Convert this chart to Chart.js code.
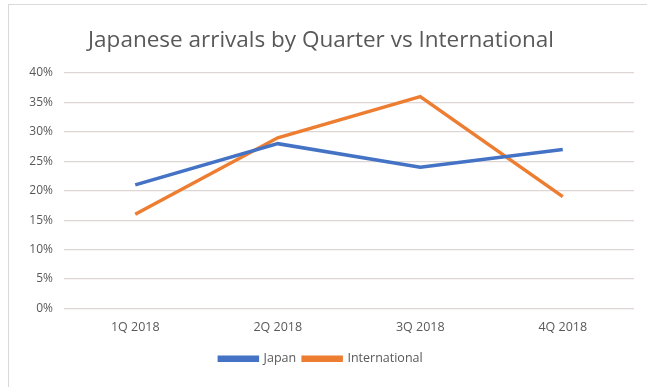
<!DOCTYPE html>
<html>
<head>
<meta charset="utf-8">
<script src="https://cdn.jsdelivr.net/npm/chart.js@4"></script>
<style>
  html, body { margin: 0; padding: 0; background: #fff; }
  #wrap { position: relative; width: 647px; height: 387px; }
  #frame { position: absolute; left: 8px; top: 4px; width: 660px; height: 400px; border: 1px solid #d9d9d9; box-sizing: border-box; pointer-events: none; }
</style>
</head>
<body>
<div id="wrap">
  <canvas id="c" width="647" height="387"></canvas>
  <div id="frame"></div>
</div>
<script>
const quarters = ['1Q 2018', '2Q 2018', '3Q 2018', '4Q 2018'];
const japan = [21, 28, 24, 27];
const international = [16, 29, 36, 19];
const yTicks = [0, 5, 10, 15, 20, 25, 30, 35, 40];

const txt = '#595959';
const font = "'Open Sans', 'Liberation Sans', sans-serif";

new Chart(document.getElementById('c'), {
    type: 'line',
    data: {
        labels: quarters,
        datasets: [{
            label: 'Japan',
            data: japan,
            borderColor: '#4472C4',
            backgroundColor: '#4472C4',
            borderWidth: 3.5,
            pointRadius: 0,
            tension: 0,
        }, {
            label: 'International',
            data: international,
            borderColor: '#ED7D31',
            backgroundColor: '#ED7D31',
            borderWidth: 3.5,
            pointRadius: 0,
            tension: 0,
        }]
    },
    options: {
        responsive: false,
        animation: false,
        layout: { padding: { left: 8, right: 13, top: 0, bottom: 12 } },
        plugins: {
            title: {
                display: true,
                text: 'Japanese arrivals by Quarter vs International',
                color: txt,
                font: { family: font, size: 22.5, weight: 'normal' },
                padding: { top: 27, bottom: 19 }
            },
            legend: {
                position: 'bottom',
                labels: {
                    color: txt,
                    font: { family: font, size: 12.5 },
                    boxWidth: 38,
                    boxHeight: 3,
                    padding: 7
                }
            },
            tooltip: { enabled: false }
        },
        scales: {
            x: {
                offset: true,
                grid: { display: false, drawTicks: false },
                border: { display: false },
                ticks: { color: txt, font: { family: font, size: 12.5 }, padding: 11 }
            },
            y: {
                min: 0,
                max: 40,
                afterFit: (s) => { s.width = 56; },
                afterBuildTicks: (s) => { s.ticks = yTicks.map(v => ({ value: v })); },
                grid: { color: '#ddd6d4', lineWidth: 1.2, drawTicks: false },
                border: { display: false },
                ticks: {
                    color: txt,
                    font: { family: font, size: 12 },
                    padding: 11,
                    callback: (v) => v + '%'
                }
            }
        }
    }
});
</script>
</body>
</html>
